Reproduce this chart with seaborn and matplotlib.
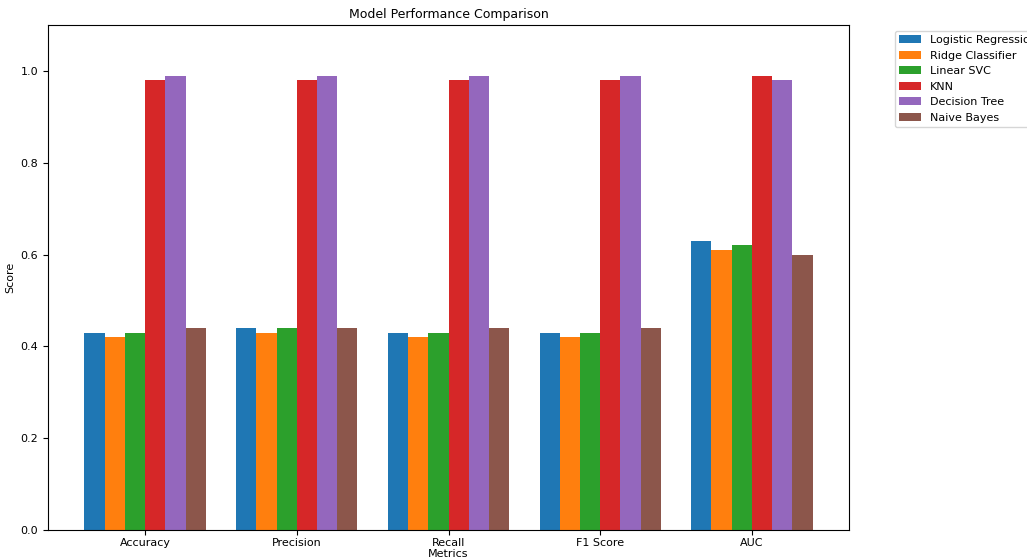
import matplotlib
matplotlib.use("Agg")
import matplotlib.pyplot as plt
import seaborn as sns
import pandas as pd

metrics = ["Accuracy", "Precision", "Recall", "F1 Score", "AUC"]
models = ["Logistic Regression", "Ridge Classifier", "Linear SVC", "KNN",
          "Decision Tree", "Naive Bayes"]

logistic_regression = [0.43, 0.44, 0.43, 0.43, 0.63]
ridge_classifier = [0.42, 0.43, 0.42, 0.42, 0.61]
linear_svc = [0.43, 0.44, 0.43, 0.43, 0.62]
knn = [0.98, 0.98, 0.98, 0.98, 0.99]
decision_tree = [0.99, 0.99, 0.99, 0.99, 0.98]
naive_bayes = [0.44, 0.44, 0.44, 0.44, 0.60]

scores = [logistic_regression, ridge_classifier, linear_svc, knn,
          decision_tree, naive_bayes]

rows = []
for model, vals in zip(models, scores):
    for metric, v in zip(metrics, vals):
        rows.append({"Metrics": metric, "Model": model, "Score": v})
df = pd.DataFrame(rows)

plt.rcParams["font.family"] = ["DejaVu Sans"]
plt.rcParams["font.size"] = 8

fig = plt.figure(figsize=(10.27, 5.6), dpi=100)
ax = fig.add_axes([48 / 1027, 30 / 560, (849 - 48) / 1027, (530 - 25) / 560])

sns.barplot(data=df, x="Metrics", y="Score", hue="Model", order=metrics,
            hue_order=models, palette="tab10", saturation=1, width=0.8,
            linewidth=0, ax=ax)

ax.set_xlim(-0.64, 4.64)
ax.set_ylim(0, 1.1)
ax.tick_params(axis="x", pad=2.5)
ax.set_title("Model Performance Comparison", fontsize=9, pad=5)
ax.set_xlabel("Metrics", labelpad=0.5)
ax.set_ylabel("Score")
ax.legend(bbox_to_anchor=(1.05, 1), loc="upper left")

fig.savefig("out.png", dpi=100)
